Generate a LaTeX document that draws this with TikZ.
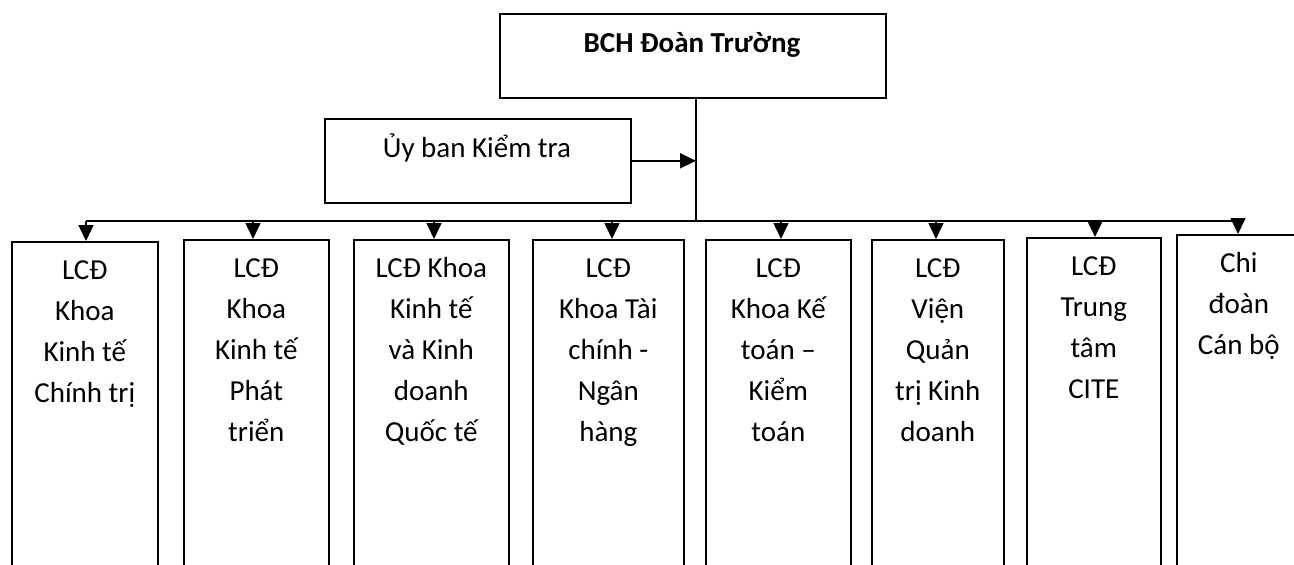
\documentclass[tikz,border=0pt]{standalone}
\usepackage{fontspec}
\setmainfont{Carlito}
\usetikzlibrary{arrows.meta,calc}
\tikzset{
  boxstyle/.style={draw, line width=1.6pt, rectangle, inner sep=0pt, anchor=north west},
  txt/.style={inner sep=0pt, align=center, font={\fontsize{29}{41}\selectfont}},
  conn/.style={line width=1.6pt},
  arr/.style={line width=1.6pt, -{Triangle[width=15pt,length=16pt]}}
}
\newcommand{\mkbox}[5]{% name, left, top, right, text
  \node[boxstyle, minimum width={(#4-#2)*1pt}, minimum height={(620-#3)*1pt}] (#1) at (#2,#3) {};
  \node[txt, anchor=north] (t#1) at ($(#1.north)+(0,9.3)$) {\strut #5};
}
\begin{document}
\begin{tikzpicture}[x=1pt,y=-1pt]
\useasboundingbox (0,0) rectangle (1294,565);
\clip (0,0) rectangle (1294,565);
% title
\node[boxstyle, minimum width=386pt, minimum height=84pt] (title) at (499,13) {};
\node[inner sep=0pt, anchor=base, font={\fontsize{29}{34}\selectfont\bfseries}] (ttitle) at (692,52) {BCH Đoàn Trường};
% uy ban
\node[boxstyle, minimum width=306pt, minimum height=84pt] (uy) at (324,118) {};
\node[inner sep=0pt, anchor=base, font={\fontsize{29}{34}\selectfont}] (tuy) at (477,157) {Ủy ban Kiểm tra};
% junction
\coordinate (j) at (696,221);
% boxes
\mkbox{b1}{11}{241}{157}{LCĐ\\Khoa\\Kinh tế\\Chính trị}
\mkbox{b2}{183}{239}{328}{LCĐ\\Khoa\\Kinh tế\\Phát\\triển}
\mkbox{b3}{353}{239}{508}{LCĐ Khoa\\Kinh tế\\và Kinh\\doanh\\Quốc tế}
\mkbox{b4}{532}{239}{683}{LCĐ\\Khoa Tài\\chính -\\Ngân\\hàng}
\mkbox{b5}{705}{239}{850}{LCĐ\\Khoa Kế\\toán –\\Kiểm\\toán}
\mkbox{b6}{871}{239}{1003}{LCĐ\\Viện\\Quản\\trị Kinh\\doanh}
\mkbox{b7}{1026}{237}{1160}{LCĐ\\Trung\\tâm\\CITE}
\mkbox{b8}{1176}{234}{1300}{Chi\\đoàn\\Cán bộ}
% arrow points on bus
\coordinate (a1) at (86,221);
\coordinate (a2) at (253,221);
\coordinate (a3) at (434,221);
\coordinate (a4) at (612,221);
\coordinate (a5) at (781,221);
\coordinate (a6) at (936,221);
\coordinate (a7) at (1095,221);
\coordinate (a8) at (1238,221);
% connectors
\draw[conn] (title.south -| j) -- (j);
\draw[conn] (a1) -- (a8);
\draw[arr] (uy.east) -- (uy.east -| j);
\foreach \i in {1,...,8} {
  \draw[arr] (a\i) -- (a\i |- b\i.north);
}
\end{tikzpicture}
\end{document}
